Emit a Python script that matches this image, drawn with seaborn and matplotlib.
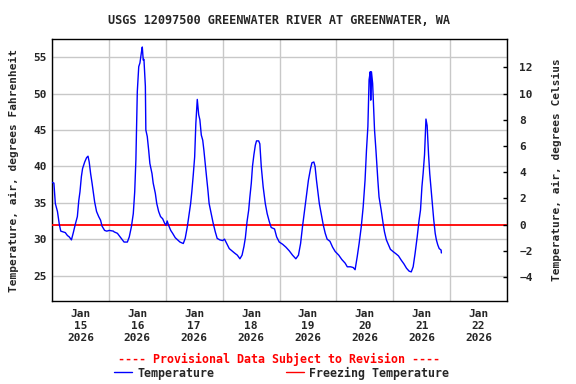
import pandas as pd
import seaborn as sns
import matplotlib.pyplot as plt
import matplotlib.dates as mdates
from matplotlib.lines import Line2D

# hours after 2026-01-15 00:00, air temperature in deg F
hours = [0.0, 0.8, 1.4, 2.3, 3.1, 3.7, 4.6, 5.6, 6.5, 7.3, 8.2, 9.0, 9.8, 10.7, 11.3, 11.8,
         12.4, 12.9, 13.8, 14.6, 15.2, 15.7, 16.3, 16.9, 17.4, 18.0, 18.8, 19.7, 20.5, 21.1,
         22.2, 23.1, 24.2, 25.9,
         26.2, 27.6, 29.0, 30.4, 31.8, 32.6, 33.5, 34.3, 34.9, 35.4, 36.0, 36.6, 37.1, 37.7,
         38.1, 38.5, 38.8, 39.4, 39.6, 40.2, 40.8, 41.3, 42.2, 42.7, 43.6, 44.2, 45.0, 45.8,
         46.7, 47.5, 48.1, 48.6, 49.2, 50.1, 50.9, 52.0, 53.7,
         54.0, 55.4, 56.2, 57.1, 57.9, 58.5, 59.0, 59.6, 60.2, 60.7, 61.3, 61.9, 62.4, 63.0,
         63.6, 64.1, 64.7, 65.2, 65.8, 66.3, 67.2, 68.0, 68.9, 69.7, 70.8, 72.0, 72.8, 73.7,
         74.8, 75.9, 77.0, 78.2, 79.3, 80.2, 81.0, 81.6,
         82.3, 83.0, 83.5, 84.1, 84.6, 85.2, 85.8, 86.3, 87.2, 87.7, 88.3, 89.1, 90.0, 90.8,
         91.7, 92.5, 93.9, 94.8, 95.9, 97.3, 98.7, 100.1, 101.5, 102.9, 104.0, 104.9, 105.7,
         106.6, 107.4, 108.2, 109.1,
         109.7, 110.5, 111.0, 111.6, 112.2, 112.8, 113.6, 114.5, 115.3, 116.1, 117.3, 118.4,
         119.5, 121.0, 122.3, 123.7, 124.6, 126.0, 127.1, 127.9, 128.8, 129.6, 130.5, 131.3,
         132.1, 132.7, 133.3, 133.6, 133.8, 134.3, 134.5, 134.8, 135.3, 135.7, 136.1, 136.7,
         137.2,
         137.5, 138.0, 138.9, 139.7, 140.3, 141.1, 142.0, 142.8, 143.9, 145.1, 146.2, 147.4,
         148.5, 149.6, 150.7, 151.6, 152.4, 153.2, 154.1, 154.9, 155.5, 156.1, 156.6, 157.2,
         157.8, 158.3, 158.9, 159.4, 160.0, 160.6, 161.1, 161.7, 162.2, 162.8, 163.4, 164.2,
         164.3]
temp_f = [37.8, 37.7, 34.9, 33.8, 32.0, 31.1, 31.0, 30.9, 30.5, 30.3, 29.9, 30.9, 32.0, 33.1,
          35.3, 36.5, 38.6, 39.7, 40.6, 41.2, 41.4, 40.6, 39.0, 37.7, 36.5, 35.1, 33.8, 33.1,
          32.6, 31.8, 31.2, 31.1, 31.2, 31.1,
          31.0, 30.8, 30.2, 29.6, 29.6, 30.3, 31.7, 33.5, 36.5, 40.9, 50.3, 53.7, 54.2, 55.6,
          56.4, 54.6, 54.7, 51.0, 45.0, 44.1, 42.2, 40.4, 39.0, 37.7, 36.3, 34.9, 33.8, 33.1,
          32.8, 32.2, 31.9, 32.5, 31.9, 31.2, 30.8, 30.2, 29.7,
          29.6, 29.4, 30.1, 31.7, 33.5, 34.9, 36.5, 38.8, 41.3, 45.9, 49.2, 47.1, 46.4, 44.3,
          43.6, 42.2, 40.2, 38.6, 36.7, 34.9, 33.5, 32.2, 31.0, 30.1, 29.9, 29.8, 30.0, 29.4,
          28.7, 28.4, 28.1, 27.8, 27.3, 27.8, 29.0, 30.2,
          32.4, 34.0, 35.8, 37.7, 40.0, 41.6, 42.9, 43.5, 43.5, 43.1, 40.0, 37.2, 34.9, 33.5,
          32.4, 31.6, 31.4, 30.3, 29.6, 29.3, 28.9, 28.4, 27.8, 27.3, 27.8, 29.4, 31.7,
          34.0, 36.1, 38.1, 39.7,
          40.5, 40.6, 40.0, 38.1, 36.5, 34.9, 33.5, 31.9, 30.8, 30.0, 29.7, 28.9,
          28.3, 27.8, 27.2, 26.7, 26.2, 26.2, 26.1, 25.8, 27.6, 29.4, 31.7, 34.4,
          38.1, 42.2, 45.5, 49.6, 51.9, 53.0, 49.1, 53.0, 51.4, 48.2, 45.0, 42.2,
          39.5,
          38.1, 35.8, 34.0, 32.2, 31.0, 29.9, 29.2, 28.6, 28.3, 28.0, 27.7, 27.1,
          26.6, 26.0, 25.6, 25.5, 26.2, 28.0, 30.3, 32.6, 34.0, 37.2, 39.0, 41.6,
          46.5, 45.6, 41.6, 39.0, 36.7, 34.4, 32.6, 30.8, 29.9, 29.2, 28.7, 28.5,
          28.1]
freezing_f = 32
left_ticks = [25, 30, 35, 40, 45, 50, 55]
right_ticks = [-4, -2, 0, 2, 4, 6, 8, 10, 12]

start = pd.Timestamp('2026-01-15')
df = pd.DataFrame({'time': start + pd.to_timedelta(hours, unit='h'), 'temp': temp_f})

sns.set_theme(style='white')
plt.rcParams['font.family'] = ['DejaVu Sans Mono']
plt.rcParams['font.weight'] = 'bold'

fig = plt.figure(figsize=(5.76, 3.84), dpi=100)
ax = fig.add_axes([52/576, 1-301/384, 455/576, 262/384])

ax.axhline(freezing_f, color='red', lw=1.3, zorder=3)
sns.lineplot(data=df, x='time', y='temp', ax=ax, color='blue', lw=1, sort=False,
             estimator=None, zorder=4)

ax.set_xlim(start, start + pd.Timedelta(days=8))
ax.set_ylim(21.5, 57.5)
ax.set_yticks(left_ticks)
ax.xaxis.set_major_locator(mdates.DayLocator())
ax.xaxis.set_major_formatter(plt.NullFormatter())
ax.xaxis.set_minor_locator(mdates.HourLocator(byhour=12))
ax.xaxis.set_minor_formatter(mdates.DateFormatter('%b\n%d\n%Y'))
ax.tick_params(axis='x', which='both', length=0, labelsize=8, pad=6)
ax.tick_params(axis='y', length=0, labelsize=8, pad=4)
for lab in ax.get_xticklabels(minor=True):
    lab.set_linespacing(1.25)
ax.grid(True, which='major', color='#c8c8c8', lw=1)
ax.set_xlabel('')
ax.set_ylabel('')
for s in ax.spines.values():
    s.set_color('black')
    s.set_linewidth(1)

ax2 = ax.twinx()
ax2.set_ylim((21.5 - 32) / 1.8, (57.5 - 32) / 1.8)
ax2.set_yticks(right_ticks)
ax2.tick_params(axis='y', direction='in', length=3, width=1, color='black', labelsize=8, pad=9)
ax2.grid(False)
for s in ax2.spines.values():
    s.set_visible(False)

fig.text(279.5/576, 1-20/384, 'USGS 12097500 GREENWATER RIVER AT GREENWATER, WA',
         ha='center', va='center', fontsize=8.6)
fig.text(14/576, 1-170/384, 'Temperature, air, degrees Fahrenheit', rotation=90,
         ha='center', va='center', fontsize=8)
fig.text(557/576, 1-170/384, 'Temperature, air, degrees Celsius', rotation=90,
         ha='center', va='center', fontsize=8)
fig.text(279/576, 1-359/384, '---- Provisional Data Subject to Revision ----',
         ha='center', va='center', fontsize=8.4, color='red')
fig.add_artist(Line2D([114/576, 132/576], [1-372/384]*2, color='blue', lw=1))
fig.text(138/576, 1-373/384, 'Temperature', ha='left', va='center', fontsize=8.4)
fig.add_artist(Line2D([286/576, 304/576], [1-372/384]*2, color='red', lw=1))
fig.text(309/576, 1-373/384, 'Freezing Temperature', ha='left', va='center', fontsize=8.4)

fig.savefig('out.png', dpi=100)
